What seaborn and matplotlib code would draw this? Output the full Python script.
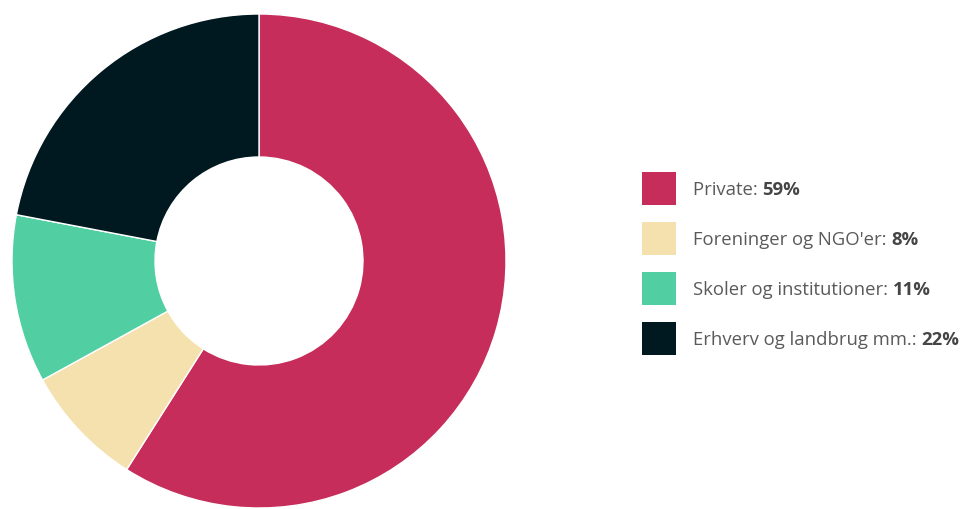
import matplotlib
matplotlib.use("Agg")
import matplotlib.pyplot as plt
from matplotlib.patches import Rectangle
import seaborn as sns

sns.set_style("white")
plt.rcParams["font.family"] = ["Open Sans", "DejaVu Sans"]

categories = ["Private", "Foreninger og NGO'er", "Skoler og institutioner", "Erhverv og landbrug mm."]
shares = [59, 8, 11, 22]
colors = ["#C62D5B", "#F5E1AE", "#52CFA2", "#001820"]

W, H = 966, 509
fig = plt.figure(figsize=(W / 100, H / 100), dpi=100)
fig.patch.set_facecolor("white")

# Donut: centre (259, 261) px from top-left, outer radius 247 px
cx, cy, r = 259, 261, 247
ax = fig.add_axes([(cx - r) / W, (H - cy - r) / H, 2 * r / W, 2 * r / H])
ax.pie(shares, colors=colors, startangle=90, counterclock=False, radius=1,
       wedgeprops=dict(width=1 - 104 / 247, edgecolor="white", linewidth=1))
ax.set_xlim(-1, 1)
ax.set_ylim(-1, 1)
ax.set_aspect("equal")
ax.axis("off")

# Legend with normal label and bold value
fig.canvas.draw()
renderer = fig.canvas.get_renderer()
y0, dy = 188, 50
fs = 13.3
for i, (cat, val, col) in enumerate(zip(categories, shares, colors)):
    yc = y0 + i * dy
    fig.patches.append(Rectangle((642 / W, (H - yc - 17) / H), 34 / W, 33 / H,
                                 transform=fig.transFigure, facecolor=col,
                                 edgecolor="none"))
    t = fig.text(693 / W, (H - yc) / H, f"{cat}: ", fontsize=fs, color="#5a5a5a",
                 va="center_baseline", ha="left")
    bb = t.get_window_extent(renderer)
    fig.text(bb.x1 / W, (H - yc) / H, f"{val}%", fontsize=fs, color="#454545",
             fontweight="bold", va="center_baseline", ha="left")

fig.savefig("out.png", dpi=100, facecolor="white")
